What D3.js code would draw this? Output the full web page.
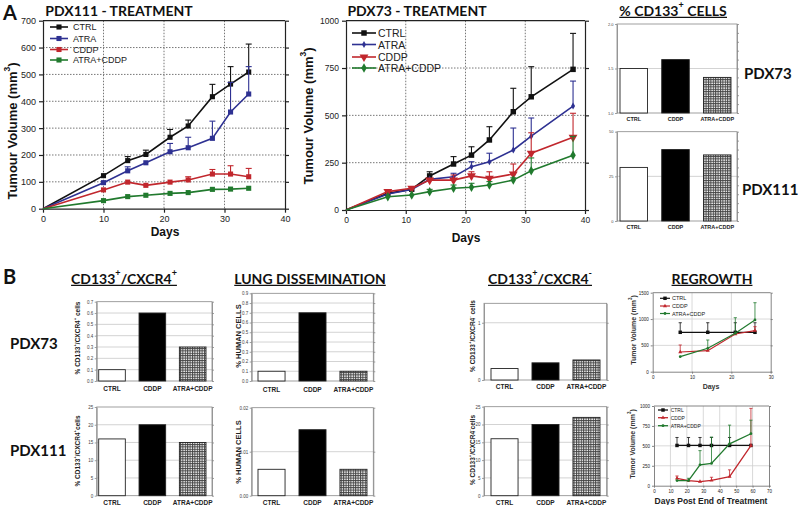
<!DOCTYPE html>
<html><head><meta charset="utf-8">
<script src="https://cdn.jsdelivr.net/npm/d3@7"></script>
<style>body{margin:0;background:#fff}svg{display:block}</style>
</head><body>
<svg id="c" width="800" height="505"></svg>
<script>
// ---------------- DATA ----------------
const seriesNames = ["CTRL","ATRA","CDDP","ATRA+CDDP"];
const barCats = ["CTRL","CDDP","ATRA+CDDP"];

// PDX111 treatment
const a111Days = [0,10,14,17,21,24,28,31,34];
const a111Ctrl = [0,123,179,202,266,308,417,464,509];
const a111CtrlErr = [0,0,15,16,29,22,46,65,104];
const a111Atra = [0,97,141,171,212,227,262,360,427];
const a111AtraErr = [0,0,15,0,31,39,64,110,102];
const a111Cddp = [0,70,99,87,99,107,129,129,119];
const a111CddpErr = [0,0,0,0,0,12,17,31,31];
const a111Ac = [0,30,45,50,57,60,72,73,76];
const a111AcErr = [0,0,0,0,0,0,0,0,0];
const a111YTicks = [0,100,200,300,400,500,600,700];
const a111XTicks = [0,10,20,30,40];

// PDX73 treatment
const a73Days = [0,7,11,14,18,21,24,28,31,38];
const a73Ctrl = [0,88,110,180,243,290,370,519,598,743];
const a73CtrlErr = [0,0,0,22,39,44,70,124,159,190];
const a73Atra = [0,85,108,162,176,229,255,317,390,549];
const a73AtraErr = [0,0,0,0,18,26,45,116,96,132];
const a73Cddp = [0,97,115,158,158,180,167,190,300,384];
const a73CddpErr = [0,0,0,0,27,22,35,53,108,127];
const a73Ac = [0,70,79,97,115,120,132,158,207,289];
const a73AcErr = [0,0,0,12,17,21,18,12,68,100];
const a73YTicks = [0,250,500,750,1000];
const a73XTicks = [0,10,20,30,40];

// % CD133+ cells
const cd133Pdx73 = [1.5,1.6,1.4];
const cd133Pdx111 = [30,40,37];
const cd133Pdx73Ticks = [1.0,1.5,2.0];
const cd133Pdx111Ticks = [0,25,50];

// B panels
const cxPosPdx73 = [0.1,0.6,0.3];
const cxPosPdx111 = [16,20,15];
const cxPosPdx73Ticks = [0,0.1,0.2,0.3,0.4,0.5,0.6,0.7];
const cxPosPdx111Ticks = [0,5,10,15,20,25];
const lungPdx73 = [0.1,0.7,0.1];
const lungPdx111 = [0.006,0.015,0.006];
const lungPdx73Ticks = [0,0.1,0.2,0.3,0.4,0.5,0.6,0.7,0.8,0.9];
const lungPdx111Ticks = [0,0.01,0.02];
const cxNegPdx73 = [0.2,0.3,0.35];
const cxNegPdx111 = [16,20,22];
const cxNegPdx73Ticks = [0,1];
const cxNegPdx111Ticks = [0,5,10,15,20,25];

// Regrowth
const rgTopDays = [7,14,21,26];
const rgTopCtrl = [748,748,748,748];
const rgTopCtrlErr = [182,182,182,182];
const rgTopCddp = [374,399,716,779];
const rgTopCddpErr = [133,0,0,76];
const rgTopAc = [285,444,729,982];
const rgTopAcErr = [0,158,296,328];
const rgTopXTicks = [0,10,20,30];
const rgTopYTicks = [0,500,1000,1500];

const rgBotDays = [14,21,28,35,46,59];
const rgBotCtrl = [505,505,505,505,505,505];
const rgBotCtrlErr = [100,100,100,100,100,0];
const rgBotCddp = [93,64,51,68,114,504];
const rgBotCddpErr = [29,0,0,38,85,466];
const rgBotAc = [64,64,262,280,525,652];
const rgBotAcErr = [0,29,178,330,235,170];
const rgBotXTicks = [0,10,20,30,40,50,60,70];
const rgBotYTicks = [0,250,500,750,1000];

// ---------------- DRAW ----------------
const COL = {CTRL:"#111111", ATRA:"#2e3192", CDDP:"#c1272d", "ATRA+CDDP":"#217a2e"};
const svg = d3.select("#c");
const defs = svg.append("defs");
const pat = defs.append("pattern").attr("id","hatch").attr("patternUnits","userSpaceOnUse")
  .attr("width",2.4).attr("height",2.4);
pat.append("rect").attr("width",2.4).attr("height",2.4).attr("fill","#fff");
pat.append("rect").attr("width",2.4).attr("height",1).attr("fill","#444");
pat.append("rect").attr("width",1).attr("height",2.4).attr("fill","#444");

const TITLE_FONT = "Lato, 'Open Sans', sans-serif";
const AX_FONT = "Arial, 'Liberation Sans', sans-serif";

function sym(type, size){ return d3.symbol().type(type).size(size)(); }

function text(g, x, y, s, o={}){
  const t = g.append("text").attr("x",x).attr("y",y)
    .attr("font-family",o.family||AX_FONT).attr("font-size",o.size||9)
    .attr("font-weight",o.weight||"normal").attr("fill",o.fill||"#111")
    .attr("text-anchor",o.anchor||"start").attr("dominant-baseline",o.base||"central");
  if (o.rotate) t.attr("transform",`rotate(${o.rotate},${x},${y})`);
  if (Array.isArray(s)) {
    s.forEach(p => {
      const sp = t.append("tspan").text(p.t);
      if (p.sup) sp.attr("baseline-shift","super").attr("font-size",(o.size||9)*0.65);
    });
  } else t.text(s);
  return t;
}
function title(x, y, s, size, underline){
  const t = text(svg, x, y, s, {family:TITLE_FONT, size:size, weight:"bold", anchor:"middle", fill:"#111"});
  if (underline){
    const bb = t.node().getBBox();
    svg.append("line").attr("x1",bb.x).attr("x2",bb.x+bb.width)
      .attr("y1",y+size*0.52).attr("y2",y+size*0.52).attr("stroke","#111").attr("stroke-width",1.2);
  }
  return t;
}

function lineChart(o){
  const g = svg.append("g");
  const x = d3.scaleLinear().domain(o.xd).range([o.l,o.r]);
  const y = d3.scaleLinear().domain(o.yd).range([o.b,o.t]);
  // grid
  const gx = o.xt.filter(v => v>o.xd[0] && v<o.xd[1]);
  const gy = o.yt.filter(v => v>o.yd[0] && v<o.yd[1]);
  g.selectAll(".gx").data(gx).join("line").attr("x1",d=>x(d)).attr("x2",d=>x(d))
    .attr("y1",o.t).attr("y2",o.b).attr("stroke",o.gridColor).attr("stroke-width",o.gridW||1)
    .attr("stroke-dasharray",o.gridDash||null);
  g.selectAll(".gy").data(gy).join("line").attr("y1",d=>y(d)).attr("y2",d=>y(d))
    .attr("x1",o.l).attr("x2",o.r).attr("stroke",o.gridColor).attr("stroke-width",o.gridW||1)
    .attr("stroke-dasharray",o.gridDash||null);
  // axes
  const ax = g.append("g").attr("transform",`translate(0,${o.b})`)
    .call(d3.axisBottom(x).tickValues(o.xt).tickSize(o.tick).tickPadding(o.pad).tickFormat(d3.format("d")).tickSizeOuter(0));
  const ay = g.append("g").attr("transform",`translate(${o.l},0)`)
    .call(d3.axisLeft(y).tickValues(o.yt).tickSize(o.tick).tickPadding(o.pad).tickFormat(d3.format("d")).tickSizeOuter(0));
  const ar = g.append("g").attr("transform",`translate(${o.r},0)`)
    .call(d3.axisRight(y).tickValues(o.yt).tickSize(o.tick).tickFormat("").tickSizeOuter(0));
  [ax,ay,ar].forEach(a=>{
    a.selectAll("path,line").attr("stroke",o.frame).attr("stroke-width",o.frameW);
    a.selectAll("text").attr("font-family",AX_FONT).attr("font-size",o.tickFont).attr("fill","#222");
  });
  g.append("line").attr("x1",o.l).attr("x2",o.r).attr("y1",o.t).attr("y2",o.t)
    .attr("stroke",o.frame).attr("stroke-width",o.frameW);
  // series
  o.series.forEach(s=>{
    const pts = o.days.map((d,i)=>({d, v:s.v[i], e:s.e[i]}));
    const c = COL[s.name];
    pts.forEach(p=>{
      if (p.e>0){
        g.append("line").attr("x1",x(p.d)).attr("x2",x(p.d)).attr("y1",y(p.v)).attr("y2",y(p.v+p.e))
          .attr("stroke",c).attr("stroke-width",o.errW||1);
        g.append("line").attr("x1",x(p.d)-o.cap).attr("x2",x(p.d)+o.cap).attr("y1",y(p.v+p.e)).attr("y2",y(p.v+p.e))
          .attr("stroke",c).attr("stroke-width",o.errW||1);
      }
    });
    g.append("path").datum(pts).attr("fill","none").attr("stroke",c).attr("stroke-width",o.lineW)
      .attr("d",d3.line().x(p=>x(p.d)).y(p=>y(p.v)));
    g.selectAll(null).data(pts.filter(p=>p.d>0 || o.markZero)).join("path")
      .attr("d",sym(s.sym,s.size)).attr("fill",c)
      .attr("transform",p=>`translate(${x(p.d)},${y(p.v)})${s.rot?" rotate(180)":""}`);
  });
  // legend
  o.series.forEach((s,i)=>{
    const ly = o.leg.y[i], c = COL[s.name];
    g.append("line").attr("x1",o.leg.x1).attr("x2",o.leg.x2).attr("y1",ly).attr("y2",ly)
      .attr("stroke",c).attr("stroke-width",o.lineW);
    g.append("path").attr("d",sym(s.sym,s.size)).attr("fill",c)
      .attr("transform",`translate(${(o.leg.x1+o.leg.x2)/2},${ly})${s.rot?" rotate(180)":""}`);
    text(g, o.leg.tx, ly, s.name, {size:o.leg.size, fill:"#222"});
  });
  return {x,y};
}

function barChart(o){
  const g = svg.append("g");
  const x = d3.scaleBand().domain(barCats).range(o.br).paddingInner(0.34);
  const y = d3.scaleLinear().domain(o.yd).range([o.b,o.t]);
  const gy = o.yt.filter(v => v>o.yd[0] && v<o.yd[1]);
  g.selectAll(null).data(gy).join("line").attr("x1",o.l).attr("x2",o.r)
    .attr("y1",d=>y(d)).attr("y2",d=>y(d)).attr("stroke","#c8c8c8").attr("stroke-width",0.8);
  const ay = g.append("g").attr("transform",`translate(${o.l},0)`)
    .call(d3.axisLeft(y).tickValues(o.yt).tickSize(2).tickPadding(1.5).tickFormat(d3.format(o.fmt)).tickSizeOuter(0));
  const ar = g.append("g").attr("transform",`translate(${o.r},0)`)
    .call(d3.axisRight(y).tickValues(o.minor||o.yt).tickSize(2).tickFormat("").tickSizeOuter(0));
  [ay,ar].forEach(a=>{
    a.selectAll("path,line").attr("stroke","#888").attr("stroke-width",0.8);
    a.selectAll("text").attr("font-family",AX_FONT).attr("font-size",o.tickFont||4.5).attr("fill","#444");
  });
  g.append("rect").attr("x",o.l).attr("y",o.t).attr("width",o.r-o.l).attr("height",o.b-o.t)
    .attr("fill","none").attr("stroke","#888").attr("stroke-width",0.8);
  g.selectAll(null).data(o.v).join("rect")
    .attr("x",(d,i)=>x(barCats[i])).attr("width",x.bandwidth())
    .attr("y",d=>y(d)).attr("height",d=>o.b-y(d))
    .attr("fill",(d,i)=>i===0?"#fff":i===1?"#000":"url(#hatch)")
    .attr("stroke","#222").attr("stroke-width",0.9);
  barCats.forEach(c=>{
    text(g, x(c)+x.bandwidth()/2, o.b+o.catDy, c, {size:o.catSize, weight:"bold", anchor:"middle", fill:"#222"});
  });
  if (o.ylab) text(g, o.ylab.x, o.ylab.y, o.ylab.t, {size:o.ylab.size, weight:"bold", anchor:"middle", rotate:-90, fill:"#222"});
}

// ---------- Panel labels & titles ----------
text(svg, 3, 12, "A", {family:TITLE_FONT, size:20, weight:"bold"});
text(svg, 3, 276, "B", {family:TITLE_FONT, size:20, weight:"bold"});
title(119, 10, "PDX111 - TREATMENT", 14, false);
title(417, 10, "PDX73 - TREATMENT", 14, false);
title(673, 10, [{t:"% CD133"}, {t:"+",sup:true}, {t:" CELLS"}], 14, true);
title(124, 278, [{t:"CD133"},{t:"+",sup:true},{t:"/CXCR4"},{t:"+",sup:true}], 14, true);
title(310, 278, "LUNG DISSEMINATION", 14, true);
title(540, 278, [{t:"CD133"},{t:"+",sup:true},{t:"/CXCR4"},{t:"-",sup:true}], 14, true);
title(712, 278, "REGROWTH", 14, true);

text(svg, 744, 73, "PDX73", {family:TITLE_FONT, size:15, weight:"bold"});
text(svg, 742, 189, "PDX111", {family:TITLE_FONT, size:15, weight:"bold"});
text(svg, 10, 343, "PDX73", {family:TITLE_FONT, size:15, weight:"bold"});
text(svg, 10, 450, "PDX111", {family:TITLE_FONT, size:15, weight:"bold"});

// ---------- A: PDX111 ----------
lineChart({
  l:43, r:285, t:20.7, b:208.7, xd:[0,40], yd:[0,700], xt:a111XTicks, yt:a111YTicks,
  tick:4, pad:3, tickFont:9, frame:"#222", frameW:1.2, gridColor:"#777", gridDash:"1.5,1.5",
  lineW:1.6, cap:3, errW:1.1, days:a111Days,
  series:[
    {name:"CTRL", v:a111Ctrl, e:a111CtrlErr, sym:d3.symbolSquare, size:26},
    {name:"ATRA", v:a111Atra, e:a111AtraErr, sym:d3.symbolSquare, size:26},
    {name:"CDDP", v:a111Cddp, e:a111CddpErr, sym:d3.symbolSquare, size:26},
    {name:"ATRA+CDDP", v:a111Ac, e:a111AcErr, sym:d3.symbolSquare, size:26}
  ],
  leg:{x1:50, x2:68, tx:73, y:[27,38.5,49.5,60], size:9}
});
text(svg, 12, 131, [{t:"Tumour Volume (mm"},{t:"3",sup:true},{t:")"}], {size:13, weight:"bold", anchor:"middle", rotate:-90});
text(svg, 165, 232, "Days", {size:12, weight:"bold", anchor:"middle"});

// ---------- A: PDX73 ----------
lineChart({
  l:346, r:585, t:20.7, b:210, xd:[0,40], yd:[0,1000], xt:a73XTicks, yt:a73YTicks,
  tick:4, pad:3, tickFont:8.5, frame:"#222", frameW:1.2, gridColor:"#777", gridDash:"1.5,1.5",
  lineW:1.6, cap:3, errW:1.1, days:a73Days,
  series:[
    {name:"CTRL", v:a73Ctrl, e:a73CtrlErr, sym:d3.symbolSquare, size:30},
    {name:"ATRA", v:a73Atra, e:a73AtraErr, sym:d3.symbolDiamond, size:14},
    {name:"CDDP", v:a73Cddp, e:a73CddpErr, sym:d3.symbolTriangle, size:34, rot:true},
    {name:"ATRA+CDDP", v:a73Ac, e:a73AcErr, sym:d3.symbolDiamond, size:26}
  ],
  leg:{x1:352, x2:376, tx:378, y:[33,44.5,57,68], size:10.5}
});
text(svg, 308, 116, [{t:"Tumour Volume (mm"},{t:"3",sup:true},{t:")"}], {size:13, weight:"bold", anchor:"middle", rotate:-90});
text(svg, 466, 238, "Days", {size:12, weight:"bold", anchor:"middle"});

// ---------- A: % CD133+ cells ----------
barChart({l:617, r:737, t:24, b:113, br:[620,731], yd:[1.0,2.0], yt:cd133Pdx73Ticks, fmt:".1f",
  minor:d3.range(1.0,2.0001,0.1), v:cd133Pdx73, catDy:5.5, catSize:5.5, tickFont:4});
barChart({l:617, r:737, t:131.7, b:221, br:[620,731], yd:[0,50], yt:cd133Pdx111Ticks, fmt:"d",
  minor:d3.range(0,50.1,5), v:cd133Pdx111, catDy:5.5, catSize:5.5, tickFont:4});

// ---------- B: CD133+/CXCR4+ ----------
barChart({l:96.7, r:212, t:301.7, b:381, br:[98.7,206], yd:[0,0.7], yt:cxPosPdx73Ticks, fmt:".1f",
  v:cxPosPdx73, catDy:7, catSize:6.5,
  ylab:{x:77, y:338, t:[{t:"% CD133"},{t:"+",sup:true},{t:"/CXCR4"},{t:"+",sup:true},{t:" cells"}], size:6.5}});
barChart({l:96.7, r:212, t:407, b:495.7, br:[98.7,206], yd:[0,25], yt:cxPosPdx111Ticks, fmt:"d",
  v:cxPosPdx111, catDy:6.3, catSize:6.5,
  ylab:{x:77, y:451, t:[{t:"% CD133"},{t:"+",sup:true},{t:"/CXCR4"},{t:"+",sup:true},{t:"cells"}], size:6.5}});

// ---------- B: Lung dissemination ----------
barChart({l:251.7, r:373.3, t:293.3, b:381, br:[258,367], yd:[0,0.9], yt:lungPdx73Ticks, fmt:".1f",
  v:lungPdx73, catDy:8.5, catSize:6.5,
  ylab:{x:238, y:336, t:"% HUMAN CELLS", size:7.5}});
barChart({l:251.7, r:373.3, t:407.7, b:495.7, br:[258,367], yd:[0,0.02], yt:lungPdx111Ticks, fmt:".2f",
  v:lungPdx111, catDy:6.3, catSize:6.5,
  ylab:{x:238, y:452, t:"% HUMAN CELLS", size:7.5}});

// ---------- B: CD133+/CXCR4- ----------
barChart({l:484, r:606.7, t:303.3, b:380, br:[491,600], yd:[0,1.34], yt:cxNegPdx73Ticks, fmt:"d",
  minor:[0,1], v:cxNegPdx73, catDy:6.5, catSize:6.5,
  ylab:{x:471.7, y:336, t:[{t:"% CD133"},{t:"+",sup:true},{t:"/CXCR4"},{t:"-",sup:true},{t:" cells"}], size:6.5}});
barChart({l:484, r:606.7, t:406.7, b:495.7, br:[491,600], yd:[0,25], yt:cxNegPdx111Ticks, fmt:"d",
  v:cxNegPdx111, catDy:6.3, catSize:6.5,
  ylab:{x:471.7, y:450, t:[{t:"% CD133"},{t:"+",sup:true},{t:"/CXCR4"},{t:"-",sup:true},{t:"cells"}], size:6.5}});

// ---------- B: Regrowth ----------
const rgGrey = "#777";
lineChart({
  l:652.7, r:770.7, t:292.7, b:371.7, xd:[0,30], yd:[0,1500], xt:rgTopXTicks, yt:rgTopYTicks,
  tick:2, pad:2, tickFont:4.5, frame:rgGrey, frameW:0.9, gridColor:"#cfcfcf", gridW:0.8,
  lineW:1.2, cap:1.6, errW:0.8, days:rgTopDays,
  series:[
    {name:"CTRL", v:rgTopCtrl, e:rgTopCtrlErr, sym:d3.symbolSquare, size:12},
    {name:"CDDP", v:rgTopCddp, e:rgTopCddpErr, sym:d3.symbolTriangle, size:7},
    {name:"ATRA+CDDP", v:rgTopAc, e:rgTopAcErr, sym:d3.symbolCircle, size:6}
  ],
  leg:{x1:660, x2:670, tx:672, y:[298.3,306,313.5], size:5.5}
});
text(svg, 632.7, 330, [{t:"Tumor Volume (mm"},{t:"3",sup:true},{t:")"}], {size:7, weight:"bold", anchor:"middle", rotate:-90, fill:"#333"});
text(svg, 711, 386.7, "Days", {size:7, weight:"bold", anchor:"middle", fill:"#333"});

lineChart({
  l:654, r:769, t:406, b:485.7, xd:[0,70], yd:[0,1000], xt:rgBotXTicks, yt:rgBotYTicks,
  tick:2, pad:2, tickFont:4.5, frame:rgGrey, frameW:0.9, gridColor:"#cfcfcf", gridW:0.8,
  lineW:1.3, cap:1.6, errW:0.8, days:rgBotDays,
  series:[
    {name:"CTRL", v:rgBotCtrl, e:rgBotCtrlErr, sym:d3.symbolSquare, size:12},
    {name:"CDDP", v:rgBotCddp, e:rgBotCddpErr, sym:d3.symbolTriangle, size:7},
    {name:"ATRA+CDDP", v:rgBotAc, e:rgBotAcErr, sym:d3.symbolCircle, size:6}
  ],
  leg:{x1:658, x2:668, tx:670.7, y:[410,417.7,425.7], size:5}
});
text(svg, 632, 444, [{t:"Tumor Volume (mm"},{t:"3",sup:true},{t:")"}], {size:7, weight:"bold", anchor:"middle", rotate:-90, fill:"#333"});
text(svg, 711, 501, "Days Post End of Treatment", {size:8.5, weight:"bold", anchor:"middle", fill:"#222"});
</script>
</body></html>
